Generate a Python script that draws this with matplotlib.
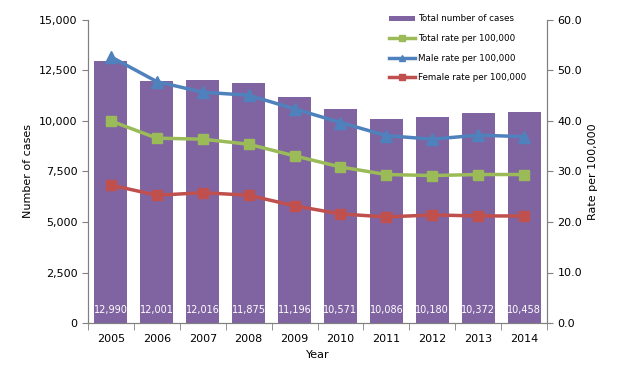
import matplotlib
matplotlib.use("Agg")
import matplotlib.pyplot as plt
import numpy as np

years = ["2005", "2006", "2007", "2008", "2009", "2010", "2011", "2012", "2013", "2014"]
cases = [12990, 12001, 12016, 11875, 11196, 10571, 10086, 10180, 10372, 10458]
total_rate = [40.0, 36.6, 36.4, 35.4, 33.1, 30.9, 29.4, 29.2, 29.4, 29.4]
male_rate = [52.7, 47.8, 45.7, 45.1, 42.4, 39.7, 37.1, 36.4, 37.2, 36.9]
female_rate = [27.3, 25.3, 25.8, 25.3, 23.2, 21.6, 21.0, 21.4, 21.2, 21.2]
case_ticks = [0, 2500, 5000, 7500, 10000, 12500, 15000]
rate_ticks = [0, 10, 20, 30, 40, 50, 60]

plt.rcParams['font.family'] = ['DejaVu Sans']
fig = plt.figure(figsize=(6.27, 3.75), dpi=100)
ax = fig.add_axes([88/627, 52/375, (547-88)/627, 303/375])
ax2 = ax.twinx()

x = np.arange(len(years))
bars = ax.bar(x, cases, width=0.72, color="#8064A2", label="Total number of cases", zorder=2)
for xi, v in zip(x, cases):
    ax.text(xi, 650, f"{v:,}", ha="center", va="center", color="white", fontsize=7, zorder=3)

ax.set_xlim(-0.5, len(years) - 0.5)
ax.set_ylim(0, 15000)
ax.set_yticks(case_ticks)
ax.set_yticklabels([f"{t:,}" for t in case_ticks], fontsize=8)
ax.set_xticks(x)
ax.set_xticklabels(years, fontsize=8)
ax.set_xticks(np.arange(-0.5, len(years), 1), minor=True)
ax.tick_params(axis='x', which='major', length=0, pad=8)
ax.tick_params(axis='x', which='minor', length=5, color="#808080")
ax.tick_params(axis='y', length=4, color="#808080")
ax.set_ylabel("Number of cases", fontsize=8)
ax.set_xlabel("Year", fontsize=8)

l1, = ax2.plot(x, total_rate, color="#9BBB59", marker="s", markersize=7, linewidth=2.5, label="Total rate per 100,000")
l2, = ax2.plot(x, male_rate, color="#4F81BD", marker="^", markersize=8, linewidth=2.5, label="Male rate per 100,000")
l3, = ax2.plot(x, female_rate, color="#C0504D", marker="s", markersize=7, linewidth=2.5, label="Female rate per 100,000")
ax2.set_ylim(0, 60)
ax2.set_yticks(rate_ticks)
ax2.set_yticklabels([f"{t:.1f}" for t in rate_ticks], fontsize=8)
ax2.tick_params(axis='y', length=4, color="#808080")
ax2.set_ylabel("Rate per 100,000", fontsize=8)

for a in (ax, ax2):
    a.spines['top'].set_visible(False)
    for s in ('left', 'right', 'bottom'):
        a.spines[s].set_color("#808080")

leg = ax2.legend([bars, l1, l2, l3],
                 [b.get_label() for b in [bars, l1, l2, l3]],
                 loc="upper right", bbox_to_anchor=(0.972, 1.045), fontsize=6.3, frameon=False,
                 handlelength=3.0, handleheight=0.5, labelspacing=1.22, handletextpad=0.3,
                 markerscale=0.55)

fig.savefig("out.png", dpi=100)
